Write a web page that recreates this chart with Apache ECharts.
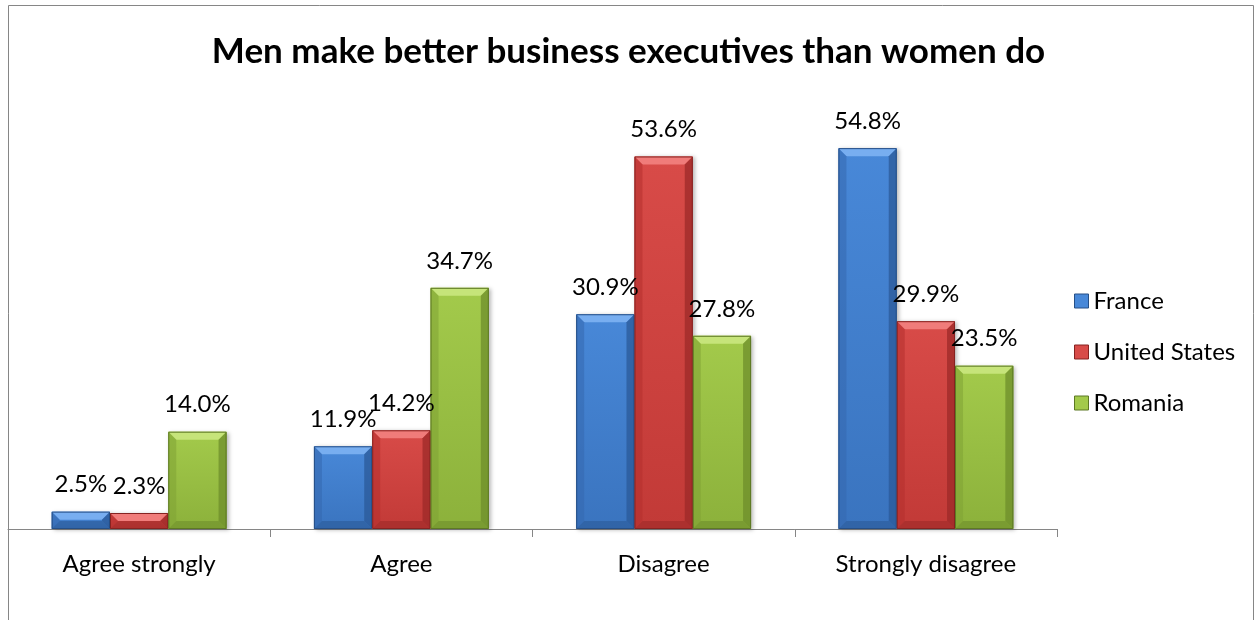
<!DOCTYPE html>
<html>
<head>
<meta charset="utf-8">
<title>Men make better business executives than women do</title>
<script src="https://cdn.jsdelivr.net/npm/echarts@6/dist/echarts.min.js"></script>
<style>
  html, body { margin: 0; padding: 0; background: #ffffff; }
  #chart { width: 1257px; height: 620px; }
</style>
</head>
<body>
<div id="chart"></div>
<script>
// Survey answers, share of respondents (%)
const categories = ['Agree strongly', 'Agree', 'Disagree', 'Strongly disagree'];
const seriesNames = ['France', 'United States', 'Romania'];
const franceValues = [2.5, 11.9, 30.9, 54.8];
const usValues = [2.3, 14.2, 53.6, 29.9];
const romaniaValues = [14.0, 34.7, 27.8, 23.5];

const FONT = 'Lato';
const TEXT_SIZE = 24;

// Bevelled bar palette: body gradient, lit top bevel, shaded sides, outline
const palettes = [
  { body: ['#4888d8', '#3a74bf'], light: '#78aef0', side: '#3467ae', dark: '#2b5a98', edge: '#264f86' },
  { body: ['#d84b48', '#c23a37'], light: '#f07c7a', side: '#b5302e', dark: '#9c2a28', edge: '#862321' },
  { body: ['#a3ca4b', '#8cb13b'], light: '#c6e47a', side: '#80a234', dark: '#6e8d2b', edge: '#5d7924' }
];

const BAR_FRACTION = 0.2223; // bar width as part of one category band
const BEVEL = 8;

function renderBar(params, api) {
  const s = params.seriesIndex;
  const pal = palettes[s];
  const cat = api.value(0);
  const val = api.value(1);
  const base = api.coord([cat, 0]);
  const tip = api.coord([cat, val]);
  const band = api.size([1, 0])[0];
  const w = band * BAR_FRACTION;
  const x0 = base[0] - 1.5 * w + s * w;
  const x1 = x0 + w;
  const y0 = tip[1];
  const y1 = base[1];
  const h = y1 - y0;
  const b = Math.min(BEVEL, h / 2, w / 2);
  const cx = (x0 + x1) / 2;

  return {
    type: 'group',
    children: [
      {
        type: 'rect',
        shape: { x: x0, y: y0, width: w, height: h },
        style: {
          fill: new echarts.graphic.LinearGradient(0, 0, 0, 1, [
            { offset: 0, color: pal.body[0] },
            { offset: 1, color: pal.body[1] }
          ]),
          shadowBlur: 4, shadowOffsetX: 2, shadowOffsetY: 1,
          shadowColor: 'rgba(0,0,0,0.28)'
        },
        z2: 1
      },
      {
        type: 'polygon',
        shape: { points: [[x0, y0], [x1, y0], [x1 - b, y0 + b], [x0 + b, y0 + b]] },
        style: { fill: pal.light },
        z2: 2
      },
      {
        type: 'polygon',
        shape: { points: [[x0, y0], [x0 + b, y0 + b], [x0 + b, y1 - b], [x0, y1]] },
        style: { fill: pal.side, opacity: 0.55 },
        z2: 2
      },
      {
        type: 'polygon',
        shape: { points: [[x1, y0], [x1 - b, y0 + b], [x1 - b, y1 - b], [x1, y1]] },
        style: { fill: pal.dark, opacity: 0.75 },
        z2: 2
      },
      {
        type: 'polygon',
        shape: { points: [[x0, y1], [x0 + b, y1 - b], [x1 - b, y1 - b], [x1, y1]] },
        style: { fill: pal.dark, opacity: 0.6 },
        z2: 2
      },
      {
        type: 'rect',
        shape: { x: x0 + 0.5, y: y0 + 0.5, width: w - 1, height: h - 1 },
        style: { fill: 'none', stroke: pal.edge, lineWidth: 1 },
        z2: 3
      },
      {
        type: 'text',
        style: {
          text: val.toFixed(1) + '%',
          x: cx,
          y: y0 - 27,
          align: 'center',
          verticalAlign: 'middle',
          fontSize: TEXT_SIZE,
          fontFamily: FONT,
          fill: '#000000'
        },
        z2: 100
      }
    ]
  };
}

const valueSets = [franceValues, usValues, romaniaValues];

const chart = echarts.init(document.getElementById('chart'), null, { renderer: 'canvas' });

chart.setOption({
  animation: false,
  backgroundColor: '#ffffff',
  title: {
    text: 'Men make better business executives than women do',
    left: 'center',
    top: 29,
    textStyle: { fontSize: 35, fontWeight: 'bold', fontFamily: FONT, color: '#000000' }
  },
  legend: {
    orient: 'vertical',
    left: 1069,
    top: 284,
    itemWidth: 14,
    itemHeight: 14,
    itemGap: 27,
    textStyle: { fontSize: TEXT_SIZE, fontFamily: FONT, color: '#000000' },
    data: seriesNames.map((name, i) => ({
      name: name,
      icon: 'rect',
      itemStyle: { color: palettes[i].body[0], borderColor: palettes[i].edge, borderWidth: 1 }
    }))
  },
  grid: { left: 8, right: 200, top: 112, bottom: 91, containLabel: false },
  xAxis: {
    type: 'category',
    data: categories,
    axisLine: { lineStyle: { color: '#868686', width: 1 } },
    axisTick: { show: true, length: 8, lineStyle: { color: '#868686' } },
    axisLabel: { fontSize: TEXT_SIZE, fontFamily: FONT, color: '#000000', margin: 23 },
    splitLine: { show: false }
  },
  yAxis: {
    type: 'value',
    min: 0,
    max: 60,
    show: false
  },
  graphic: [
    {
      type: 'rect',
      shape: { x: 8.5, y: 5.5, width: 1245, height: 700 },
      style: { fill: 'none', stroke: '#868686', lineWidth: 1 },
      silent: true,
      z: 10
    }
  ],
  series: seriesNames.map((name, i) => ({
    name: name,
    type: 'custom',
    renderItem: renderBar,
    itemStyle: { color: palettes[i].body[0] },
    encode: { x: 0, y: 1 },
    data: valueSets[i].map((v, k) => [k, v]),
    z: 2
  }))
});
</script>
</body>
</html>
